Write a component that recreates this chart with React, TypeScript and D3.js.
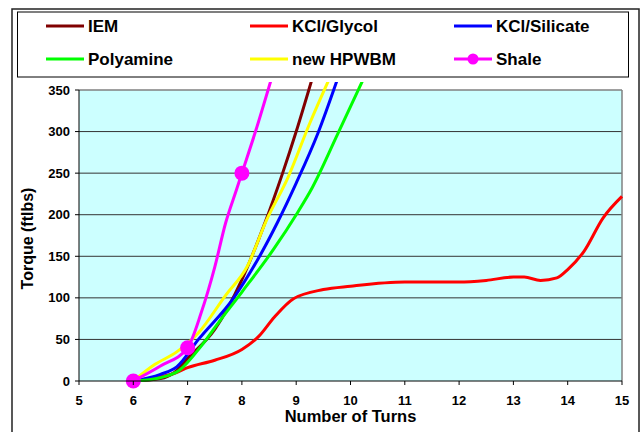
import React from "react";
import * as d3 from "d3";

// turns (x) and torque (y), one pair per series
const iemX = [6, 6.5, 6.75, 7, 7.5, 8, 8.4, 8.75, 9, 9.3];
const iemY = [0, 3, 10, 27, 62, 122, 186, 250, 300, 365];
const glycolX = [6, 6.3, 6.75, 7, 7.5, 8, 8.3, 8.6, 8.95, 9.5, 10, 11, 12, 12.5, 13, 13.2, 13.5, 13.8, 14, 14.3, 14.65, 15];
const glycolY = [0, 3, 9, 16, 25, 38, 53, 77, 99, 110, 114, 119, 119, 121, 125, 125, 121, 124, 134, 156, 196, 222];
const silicateX = [6, 6.5, 6.8, 7.2, 7.85, 8.3, 8.65, 9.0, 9.4, 9.77];
const silicateY = [0, 8, 17, 50, 100, 147, 190, 238, 298, 365];
const polyX = [6, 6.5, 6.85, 7.25, 7.6, 8.0, 8.6, 9.0, 9.3, 9.75, 10.25];
const polyY = [0, 4, 13, 42, 73, 107, 160, 200, 233, 295, 365];
const hpwbmX = [6, 6.4, 6.8, 7.2, 7.7, 8.1, 8.45, 8.85, 9.25, 9.62];
const hpwbmY = [0, 20, 35, 58, 103, 138, 193, 245, 310, 365];
const shaleX = [6, 6.5, 7, 7.25, 7.5, 7.7, 7.9, 8, 8.25, 8.55];
const shaleY = [0, 18, 40, 82, 137, 190, 230, 250, 300, 365];
const shaleMarkX = [6, 7, 8];
const shaleMarkY = [0, 40, 250];

const seriesNames = ["IEM", "KCl/Glycol", "KCl/Silicate", "Polyamine", "new HPWBM", "Shale"];
const seriesColors = ["#800000", "#ff0000", "#0000ff", "#00ff00", "#ffff00", "#ff00ff"];
const seriesX = [iemX, glycolX, silicateX, polyX, hpwbmX, shaleX];
const seriesY = [iemY, glycolY, silicateY, polyY, hpwbmY, shaleY];

const xTicks = [5, 6, 7, 8, 9, 10, 11, 12, 13, 14, 15];
const yTicks = [0, 50, 100, 150, 200, 250, 300, 350];

const font = "'Liberation Sans', Arial, sans-serif";

export default function App() {
  const x = d3.scaleLinear().domain([5, 15]).range([79, 622]);
  const y = d3.scaleLinear().domain([0, 350]).range([381, 90]);

  const line = d3
    .line<[number, number]>()
    .x((d) => x(d[0]))
    .y((d) => y(d[1]))
    .curve(d3.curveMonotoneX);

  const legendCol = [46, 250, 454];
  const legendRow = [26, 59];

  return (
    <div style={{ position: "absolute", left: 0, top: 0 }}>
      <svg width={642} height={432} style={{ display: "block" }} fontFamily={font}>
        <rect x={0} y={0} width={642} height={432} fill="#fff" />
        {/* outer frame */}
        <rect x={12} y={9} width={627} height={440} fill="none" stroke="#222" strokeWidth={1.5} />
        {/* legend */}
        <rect x={17.5} y={12} width={611} height={65} fill="#fff" stroke="#000" strokeWidth={1} />
        {seriesNames.map((name, i) => {
          const lx = legendCol[i % 3];
          const ly = legendRow[Math.floor(i / 3)];
          return (
            <g key={name}>
              <line x1={lx} x2={lx + 38} y1={ly} y2={ly} stroke={seriesColors[i]} strokeWidth={3} />
              {name === "Shale" && <circle cx={lx + 19} cy={ly} r={5.5} fill={seriesColors[i]} />}
              <text x={lx + 42} y={ly + 6} fontSize={17} fontWeight="bold" fill="#000">
                {name}
              </text>
            </g>
          );
        })}

        {/* plot area */}
        <rect x={x(5)} y={y(350)} width={x(15) - x(5)} height={y(0) - y(350)} fill="#ccffff" />
        {yTicks.slice(1, -1).map((t) => (
          <line key={t} x1={x(5)} x2={x(15)} y1={y(t)} y2={y(t)} stroke="#333" strokeWidth={1} />
        ))}
        <line x1={x(5)} x2={x(15)} y1={y(350)} y2={y(350)} stroke="#808080" strokeWidth={1.5} />
        <line x1={x(15)} x2={x(15)} y1={y(350)} y2={y(0)} stroke="#808080" strokeWidth={1.5} />

        <defs>
          <clipPath id="plotClip">
            <rect x={x(5)} y={82} width={x(15) - x(5) + 3} height={y(0) - 82 + 10} />
          </clipPath>
        </defs>
        <g clipPath="url(#plotClip)">
          {seriesNames.map((name, i) => {
            const pts = seriesX[i].map((v, j) => [v, seriesY[i][j]] as [number, number]);
            return (
              <path key={name} d={line(pts) || ""} fill="none" stroke={seriesColors[i]} strokeWidth={3} strokeLinejoin="round" />
            );
          })}
        </g>
        {shaleMarkX.map((v, j) => (
          <circle key={v} cx={x(v)} cy={y(shaleMarkY[j])} r={7.5} fill="#ff00ff" />
        ))}

        {/* axes */}
        <line x1={x(5)} x2={x(5)} y1={y(350)} y2={y(0)} stroke="#000" strokeWidth={1} />
        <line x1={x(5)} x2={x(15)} y1={y(0)} y2={y(0)} stroke="#000" strokeWidth={1} />
        {yTicks.map((t) => (
          <g key={t}>
            <line x1={x(5) - 4} x2={x(5)} y1={y(t)} y2={y(t)} stroke="#000" />
            <text x={x(5) - 9} y={y(t) + 4.5} textAnchor="end" fontSize={13} fontWeight="bold">
              {t}
            </text>
          </g>
        ))}
        {xTicks.map((t) => (
          <g key={t}>
            <line x1={x(t)} x2={x(t)} y1={y(0)} y2={y(0) + 4} stroke="#000" />
            <text x={x(t)} y={y(0) + 24} textAnchor="middle" fontSize={13} fontWeight="bold">
              {t}
            </text>
          </g>
        ))}
        <text x={(x(5) + x(15)) / 2} y={422} textAnchor="middle" fontSize={16.5} fontWeight="bold">
          Number of Turns
        </text>
        <text transform={`translate(33,${(y(0) + y(350)) / 2 + 3}) rotate(-90)`} textAnchor="middle" fontSize={16} fontWeight="bold">
          Torque (ftlbs)
        </text>
      </svg>
    </div>
  );
}
